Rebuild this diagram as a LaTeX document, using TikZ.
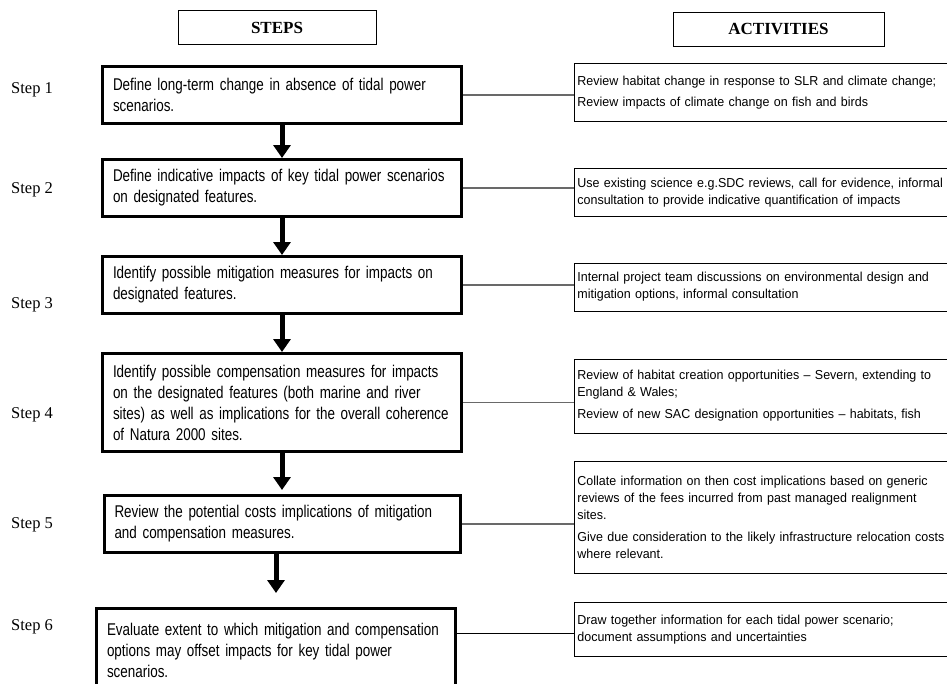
\documentclass[tikz,border=0pt]{standalone}
\usepackage{fontspec}
\setmainfont{Liberation Serif}
\newfontfamily\narrowsans{Liberation Sans}[FakeStretch=0.79,WordSpace=0.75]
\newfontfamily\actsans{Liberation Sans}[FakeStretch=0.96,WordSpace=0.85]
\usetikzlibrary{positioning,arrows.meta}
\definecolor{LinkGrey}{RGB}{105,105,105}

\begin{document}
\begin{tikzpicture}[
    x=1pt, y=-1pt,
    header/.style={
        rectangle,
        draw=black,
        line width=0.8pt,
        minimum height=34pt,
        font=\bfseries\fontsize{17}{20}\selectfont
    },
    stepbox/.style={
        rectangle,
        draw=black,
        line width=3pt,
        text width=338pt,
        inner xsep=10.5pt,
        minimum height=57pt,
        align=left,
        font=\narrowsans\fontsize{17}{21}\selectfont
    },
    actbox/.style={
        rectangle,
        draw=black,
        line width=0.8pt,
        text width=420pt,
        inner xsep=3pt,
        align=left,
        font=\actsans\fontsize{13}{17}\selectfont
    },
    steplabel/.style={
        anchor=base west,
        inner sep=0pt,
        font=\fontsize{16.5}{20}\selectfont
    },
    flow/.style={
        -{Triangle[width=17pt,length=13pt]},
        line width=5pt,
        draw=black
    },
    link/.style={
        line width=1.2pt,
        draw=LinkGrey
    }
]

\useasboundingbox (0,0) rectangle (947,683);
\clip (0,0) rectangle (947,683);

\node[header,minimum width=198pt] (stepshead) at (277,27.5)
{STEPS};

\node[header,minimum width=211pt] (actshead) at (778.5,29)
{ACTIVITIES};

% steps column
\node[stepbox] (s1) at (282,95)
{Define long-term change in absence of tidal power\\
scenarios.};

\node[stepbox,below=33pt of s1] (s2)
{Define indicative impacts of key tidal power scenarios\\
on designated features.};

\node[stepbox,below=37pt of s2] (s3)
{Identify possible mitigation measures for impacts on\\
designated features.};

\node[stepbox,below=37pt of s3,minimum height=98pt] (s4)
{Identify possible compensation measures for impacts\\
on the designated features (both marine and river\\
sites) as well as implications for the overall coherence\\
of Natura 2000 sites.};

\node[stepbox,below=41pt of s4,text width=335pt] (s5)
{Review the potential costs implications of mitigation\\
and compensation measures.};

\node[stepbox,below=53pt of s5,xshift=-6pt,minimum height=84pt] (s6)
{Evaluate extent to which mitigation and compensation\\
options may offset impacts for key tidal power\\
scenarios.};

\draw[flow]
(s1) -- (s2);

\draw[flow]
(s2) -- (s3);

\draw[flow]
(s3) -- (s4);

\draw[flow,shorten >=4pt]
(s4) -- (s5);

\draw[flow,shorten >=14pt]
(s5.south -| s6.north) -- (s6.north);

% step labels
\node[steplabel] (l1) at (11,93) {Step 1};
\node[steplabel] (l2) at (11,193) {Step 2};
\node[steplabel] (l3) at (11,308) {Step 3};
\node[steplabel] (l4) at (11,418) {Step 4};
\node[steplabel] (l5) at (11,528) {Step 5};
\node[steplabel] (l6) at (11,630) {Step 6};

% activities column
\node[actbox,right=111pt of s1,yshift=2.5pt,minimum height=58pt] (a1)
{Review habitat change in response to SLR and climate change;\\[4pt]
Review impacts of climate change on fish and birds};

\node[actbox,below=46pt of a1,minimum height=48pt] (a2)
{Use existing science e.g.SDC reviews, call for evidence, informal\\
consultation to provide indicative quantification of impacts};

\node[actbox,below=46pt of a2,minimum height=48pt] (a3)
{Internal project team discussions on environmental design and\\
mitigation options, informal consultation};

\node[actbox,below=47pt of a3,minimum height=74pt] (a4)
{Review of habitat creation opportunities – Severn, extending to\\
England \& Wales;\\[5pt]
Review of new SAC designation opportunities – habitats, fish};

\node[actbox,below=28pt of a4,minimum height=112pt] (a5)
{Collate information on then cost implications based on generic\\
reviews of the fees incurred from past managed realignment\\
sites.\\[5pt]
Give due consideration to the likely infrastructure relocation costs\\
where relevant.};

\node[actbox,below=28pt of a5,minimum height=54pt] (a6)
{Draw together information for each tidal power scenario;\\
document assumptions and uncertainties};

\draw[link]
(s1.east) -- (s1.east -| a1.west);

\draw[link]
(s2.east) -- (s2.east -| a2.west);

\draw[link]
(s3.east) -- (s3.east -| a3.west);

\draw[link]
(s4.east) -- (s4.east -| a4.west);

\draw[link]
(s5.east) -- (s5.east -| a5.west);

\draw[link,draw=black]
([yshift=-4pt]a6.west -| s6.east) -- ([yshift=-4pt]a6.west);

\end{tikzpicture}
\end{document}
